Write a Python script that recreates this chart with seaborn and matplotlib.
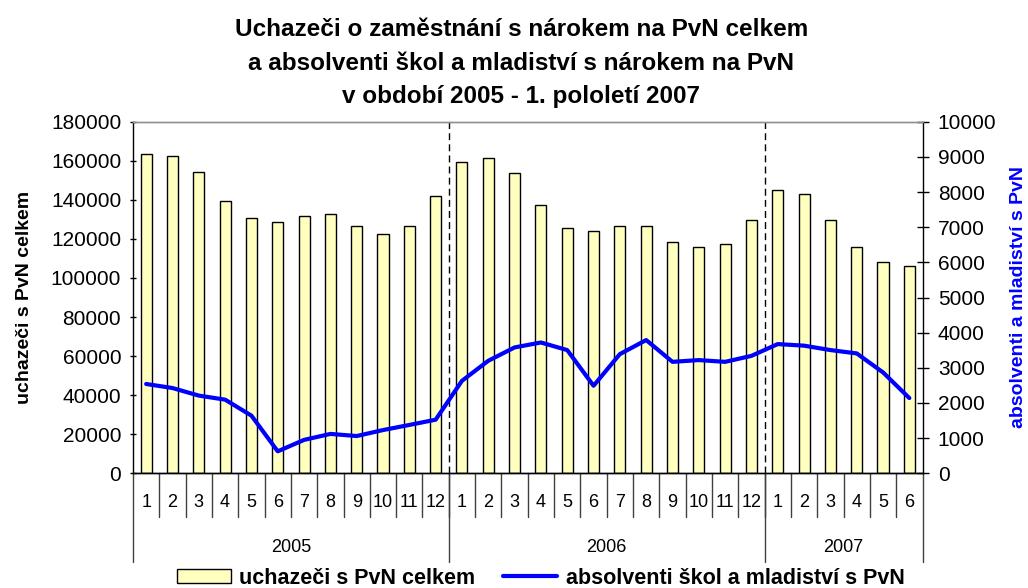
import numpy as np
import pandas as pd
import matplotlib
matplotlib.use('Agg')
import matplotlib.pyplot as plt
import matplotlib.transforms as mtransforms
from matplotlib.patches import Patch
from matplotlib.lines import Line2D
import seaborn as sns

# Data
roky = ['2005', '2006', '2007']
mesicu_v_roce = [12, 12, 6]
mesice = [1, 2, 3, 4, 5, 6, 7, 8, 9, 10, 11, 12,
          1, 2, 3, 4, 5, 6, 7, 8, 9, 10, 11, 12,
          1, 2, 3, 4, 5, 6]
uchazeci = [163500, 162500, 154300, 139300, 130900, 128900, 131900, 132800, 126800, 122600, 126800, 142000,
            159600, 161400, 153600, 137100, 125700, 123800, 126800, 126800, 118600, 115600, 117500, 129900,
            145100, 143200, 129900, 115600, 108300, 106300]
absolventi = [2540, 2425, 2210, 2095, 1640, 625, 950, 1120, 1060, 1230, 1375, 1525,
              2630, 3200, 3580, 3720, 3505, 2490, 3390, 3790, 3170, 3220, 3170, 3340,
              3675, 3630, 3505, 3410, 2870, 2140]

nazev = ['Uchazeči o zaměstnání s nárokem na PvN celkem',
         'a absolventi škol a mladiství s nárokem na PvN',
         'v období 2005 - 1. pololetí 2007']
label_bar = 'uchazeči s PvN celkem'
label_line = 'absolventi škol a mladiství s PvN'
ylabel_right = 'absolventi a mladiství s PvN'

df = pd.DataFrame({'poradi': np.arange(len(mesice)), 'mesic': mesice,
                   'uchazeci': uchazeci, 'absolventi': absolventi})

sns.set_theme(style='white')
plt.rcParams['font.family'] = ['Liberation Sans', 'DejaVu Sans']
plt.rcParams['text.color'] = 'black'
plt.rcParams['axes.labelcolor'] = 'black'
plt.rcParams['xtick.color'] = 'black'
plt.rcParams['ytick.color'] = 'black'

fig = plt.figure(figsize=(10.28, 5.88), dpi=100)
ax = fig.add_axes([133 / 1028, 1 - 473.3 / 588, 789.5 / 1028, 351.6 / 588])

# sloupce
sns.barplot(data=df, x='poradi', y='uchazeci', color='#FFFFC0', saturation=1,
            edgecolor='black', linewidth=1.0, width=0.42, ax=ax)
ax.set_ylim(0, 180000)
ax.set_yticks(np.arange(0, 180001, 20000))
ax.set_xlim(-0.5, len(mesice) - 0.5)
ax.set_xlabel('')
ax.set_ylabel('uchazeči s PvN celkem', fontsize=14, fontweight='bold', labelpad=13)
ax.tick_params(axis='y', direction='inout', length=5, width=1, color='black',
               labelsize=15, pad=6, left=True)
ax.set_xticks([])

# linka na druhe ose
ax2 = ax.twinx()
sns.lineplot(data=df, x='poradi', y='absolventi', color='#0000FF', linewidth=3, ax=ax2)
ax2.set_ylim(0, 10000)
ax2.set_yticks(np.arange(0, 10001, 1000))
ax2.set_xlabel('')
ax2.set_ylabel(ylabel_right, fontsize=14, fontweight='bold', color='#0000FF', labelpad=10)
ax2.tick_params(axis='y', direction='inout', length=8, width=1, color='black',
                labelsize=15, pad=7, right=True)
ax2.set_xticks([])

for a in (ax, ax2):
    for s in a.spines.values():
        s.set_linewidth(1)
        s.set_color('black')
    a.spines['top'].set_color('#909090')
ax2.spines['left'].set_visible(False)
ax.spines['right'].set_visible(False)

# hranice let - carkovane a popisky osy x
trans = mtransforms.blended_transform_factory(ax.transData, ax.transAxes)
hranice = np.cumsum([0] + mesicu_v_roce) - 0.5
for h in hranice[1:-1]:
    ax.axvline(h, color='black', linestyle=(0, (5, 3)), linewidth=1)

for i, m in enumerate(mesice):
    ax.text(i, -0.082, str(m), transform=trans, ha='center', va='center', fontsize=13)
    if i > 0:
        ax.plot([i - 0.5, i - 0.5], [0, -0.124], transform=trans, color='#404040',
                linewidth=1, clip_on=False)
for h in hranice:
    ax.plot([h, h], [0, -0.252], transform=trans, color='#404040', linewidth=1, clip_on=False)
for k, rok in enumerate(roky):
    ax.text((hranice[k] + hranice[k + 1]) / 2, -0.21, rok, transform=trans,
            ha='center', va='center', fontsize=13)

# titulek
for j, radek in enumerate(nazev):
    fig.text(0.507, 1 - (30 + 33 * j) / 588, radek, ha='center', va='center',
             fontsize=17.5, fontweight='bold')

# legenda
handles = [Patch(facecolor='#FFFFC0', edgecolor='black', linewidth=1.0),
           Line2D([0], [0], color='#0000FF', linewidth=3)]
fig.legend(handles, [label_bar, label_line], loc='center', bbox_to_anchor=(0.526, 1 - 578 / 588),
           ncol=2, frameon=False, prop={'size': 15.5, 'weight': 'bold'},
           handlelength=2.5, handleheight=0.6, handletextpad=0.4, columnspacing=1.3)

fig.savefig('out.png', dpi=100)
